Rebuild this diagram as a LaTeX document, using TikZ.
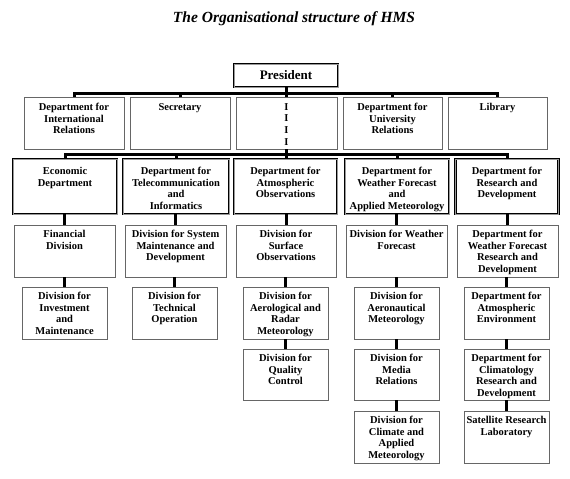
\documentclass[tikz,border=0pt]{standalone}
\usepackage{fontspec}
\setmainfont{Liberation Serif}
\newcommand\tbox[7]{%
  \node[thinbox, minimum width=#4pt, minimum height=#5pt, anchor=north] (#1) at (#2,#3) {};
  \node[txt, anchor=north] (#1t) at ([yshift=-#6pt]#1.north) {#7};}
\begin{document}
\begin{tikzpicture}[x=1pt,y=-1pt,
  thinbox/.style={draw=black!60, line width=1pt, fill=white, inner sep=0pt, outer sep=0pt},
  thickbox/.style={draw=black, line width=0.9pt, double=black!40, double distance=0.8pt, fill=white, inner sep=0pt, outer sep=0pt},
  txt/.style={font=\bfseries\fontsize{10.5}{11.7}\selectfont, align=center, inner sep=0pt},
  conn/.style={line width=3pt, draw=black}]
\useasboundingbox[fill=white] (0,0) rectangle (570,479);

\node[font=\bfseries\itshape\fontsize{15.5}{18}\selectfont] (title) at (294,19) {The Organisational structure of HMS};

% President
\node[thickbox, minimum width=104pt, minimum height=23pt, anchor=north] (pres) at (286,64) {};
\node[font=\bfseries\fontsize{13}{15}\selectfont, inner sep=0pt] (prest) at (pres.center) {President};

% Row 1
\tbox{intl}{74}{97}{100}{52}{6}{Department for\\International\\Relations}
\tbox{sec}{180}{97}{100}{52}{6}{Secretary}
\tbox{ibox}{286.5}{97}{101}{52}{6}{I\\I\\I\\I}
\tbox{univ}{392.5}{97}{99}{52}{6}{Department for\\University\\Relations}
\tbox{lib}{497.5}{97}{99}{52}{6}{Library}

% Row 2 (thick)
\tikzset{thinbox/.style={thickbox}}
\tbox{econ}{65}{159}{104}{55}{8}{Economic\\Department}
\tbox{tele}{176}{159}{106}{55}{8}{Department for\\Telecommunication\\and\\Informatics}
\tbox{atmo}{285.5}{159}{103}{55}{8}{Department for\\Atmospheric\\Observations}
\tbox{wfam}{397}{159}{104}{55}{8}{Department for\\Weather Forecast\\and\\Applied Meteorology}
\tbox{rd}{507}{159}{103}{55}{8}{Department for\\Research and\\Development}
\tikzset{thinbox/.style={draw=black!60, line width=1pt, fill=white, inner sep=0pt, outer sep=0pt}}

% Row 3
\tbox{fin}{64.5}{225}{101}{52}{5}{Financial\\Division}
\tbox{sys}{175.5}{225}{101}{52}{5}{Division for System\\Maintenance and\\Development}
\tbox{surf}{286}{225}{100}{52}{5}{Division for\\Surface\\Observations}
\tbox{wf}{396.5}{225}{101}{52}{5}{Division for Weather\\Forecast}
\tbox{wfrd}{507.5}{225}{101}{52}{5}{Department for\\Weather Forecast\\Research and\\Development}

% Row 4
\tbox{inv}{64.5}{287}{85}{52}{5}{Division for\\Investment\\and\\Maintenance}
\tbox{tech}{174.5}{287}{85}{52}{5}{Division for\\Technical\\Operation}
\tbox{aero}{285.5}{287}{85}{52}{5}{Division for\\Aerological and\\Radar\\Meteorology}
\tbox{aeron}{396.5}{287}{85}{52}{5}{Division for\\Aeronautical\\Meteorology}
\tbox{aenv}{506.5}{287}{85}{52}{5}{Department for\\Atmospheric\\Environment}

% Row 5
\tbox{qual}{285.5}{349}{85}{51}{5}{Division for\\Quality\\Control}
\tbox{media}{396.5}{349}{85}{51}{5}{Division for\\Media\\Relations}
\tbox{clim}{506.5}{349}{85}{51}{5}{Department for\\Climatology\\Research and\\Development}

% Row 6
\tbox{cam}{396.5}{411}{85}{52}{5}{Division for\\Climate and\\Applied\\Meteorology}
\tbox{sat}{506.5}{411}{85}{52}{5}{Satellite Research\\Laboratory}

% Connectors
\coordinate (b1) at (286,93);
\coordinate (b2) at (286,154);
\draw[conn] (pres.south) -- (pres.south |- ibox.north);
\draw[conn] (intl.north) -- (intl.north |- b1) -- (lib.north |- b1) -- (lib.north);
\draw[conn] (sec.north) -- (sec.north |- b1);
\draw[conn] (univ.north) -- (univ.north |- b1);
\draw[conn] (ibox.south) -- (ibox.south |- atmo.north);
\draw[conn] (econ.north) -- (econ.north |- b2) -- (rd.north |- b2) -- (rd.north);
\draw[conn] (tele.north) -- (tele.north |- b2);
\draw[conn] (wfam.north) -- (wfam.north |- b2);

\draw[conn] (fin.north) -- (fin.north |- econ.south);
\draw[conn] (sys.north) -- (sys.north |- tele.south);
\draw[conn] (surf.north) -- (surf.north |- atmo.south);
\draw[conn] (wf.north) -- (wf.north |- wfam.south);
\draw[conn] (wfrd.north) -- (wfrd.north |- rd.south);

\draw[conn] (inv.north) -- (inv.north |- fin.south);
\draw[conn] (tech.north) -- (tech.north |- sys.south);
\draw[conn] (aero.north) -- (aero.north |- surf.south);
\draw[conn] (aeron.north) -- (aeron.north |- wf.south);
\draw[conn] (aenv.north) -- (aenv.north |- wfrd.south);

\draw[conn] (qual.north) -- (qual.north |- aero.south);
\draw[conn] (media.north) -- (media.north |- aeron.south);
\draw[conn] (clim.north) -- (clim.north |- aenv.south);

\draw[conn] (cam.north) -- (cam.north |- media.south);
\draw[conn] (sat.north) -- (sat.north |- clim.south);
\end{tikzpicture}
\end{document}
